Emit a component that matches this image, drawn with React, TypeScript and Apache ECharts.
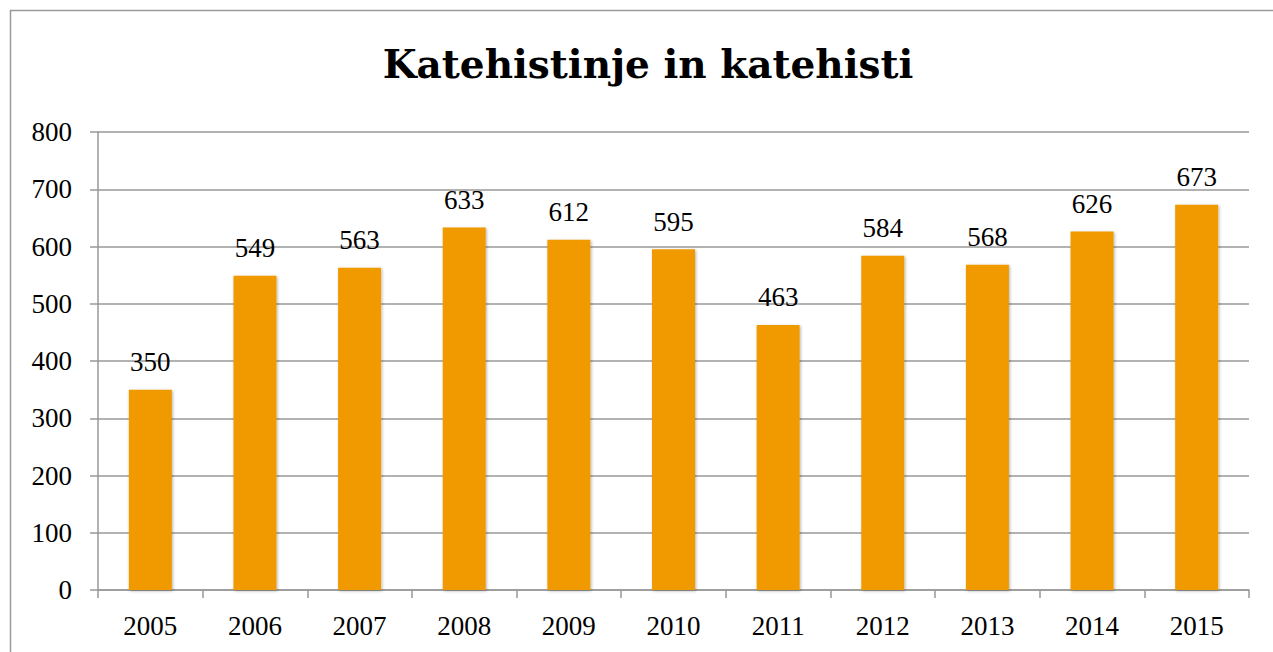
import React, { useEffect, useRef } from "react";
import * as echarts from "echarts";

const titleText = "Katehistinje in katehisti";
const years = ["2005", "2006", "2007", "2008", "2009", "2010", "2011", "2012", "2013", "2014", "2015"];
const values = [350, 549, 563, 633, 612, 595, 463, 584, 568, 626, 673];

const FONT = "'Liberation Serif', serif";
const TITLE_FONT = "'DejaVu Serif', serif";

export default function App() {
  const ref = useRef<HTMLDivElement>(null);
  useEffect(() => {
    document.body.style.margin = "0";
    const chart = echarts.init(ref.current!, null, { renderer: "svg" });
    chart.setOption({
      animation: false,
      backgroundColor: "#ffffff",
      graphic: [
        {
          type: "rect",
          shape: { x: 10.5, y: 10.5, width: 1300, height: 700 },
          style: { fill: "none", stroke: "#9a9a9a", lineWidth: 1.5 },
          silent: true,
        },
        {
          type: "text",
          x: 648,
          y: 64,
          style: {
            text: titleText,
            font: `bold 39px ${TITLE_FONT}`,
            fill: "#000",
            textAlign: "center",
            textVerticalAlign: "middle",
          },
        },
      ],
      grid: { left: 98, right: 24, top: 132, bottom: 62, containLabel: false },
      xAxis: {
        type: "category",
        data: years,
        axisLine: { lineStyle: { color: "#999999", width: 1.5 } },
        axisTick: { show: true, length: 8, lineStyle: { color: "#999999", width: 1.5 } },
        axisLabel: { color: "#000", fontFamily: FONT, fontSize: 27, margin: 22 },
      },
      yAxis: {
        type: "value",
        min: 0,
        max: 800,
        interval: 100,
        axisLine: { show: true, lineStyle: { color: "#999999", width: 1.5 } },
        axisTick: { show: true, length: 8, lineStyle: { color: "#999999", width: 1.5 } },
        axisLabel: { color: "#000", fontFamily: FONT, fontSize: 27, margin: 26 },
        splitLine: { lineStyle: { color: "#999999", width: 1.5 } },
      },
      series: [
        {
          type: "bar",
          data: values,
          barWidth: 43,
          itemStyle: {
            color: "#F09A00",
            shadowColor: "rgba(0,0,0,0.3)",
            shadowBlur: 3,
            shadowOffsetX: 1,
            shadowOffsetY: 1,
          },
          label: {
            show: true,
            position: "top",
            distance: 14,
            color: "#000",
            fontFamily: FONT,
            fontSize: 27,
          },
        },
      ],
    });
    return () => chart.dispose();
  }, []);
  return <div ref={ref} style={{ width: 1273, height: 652, position: "absolute", left: 0, top: 0 }} />;
}
